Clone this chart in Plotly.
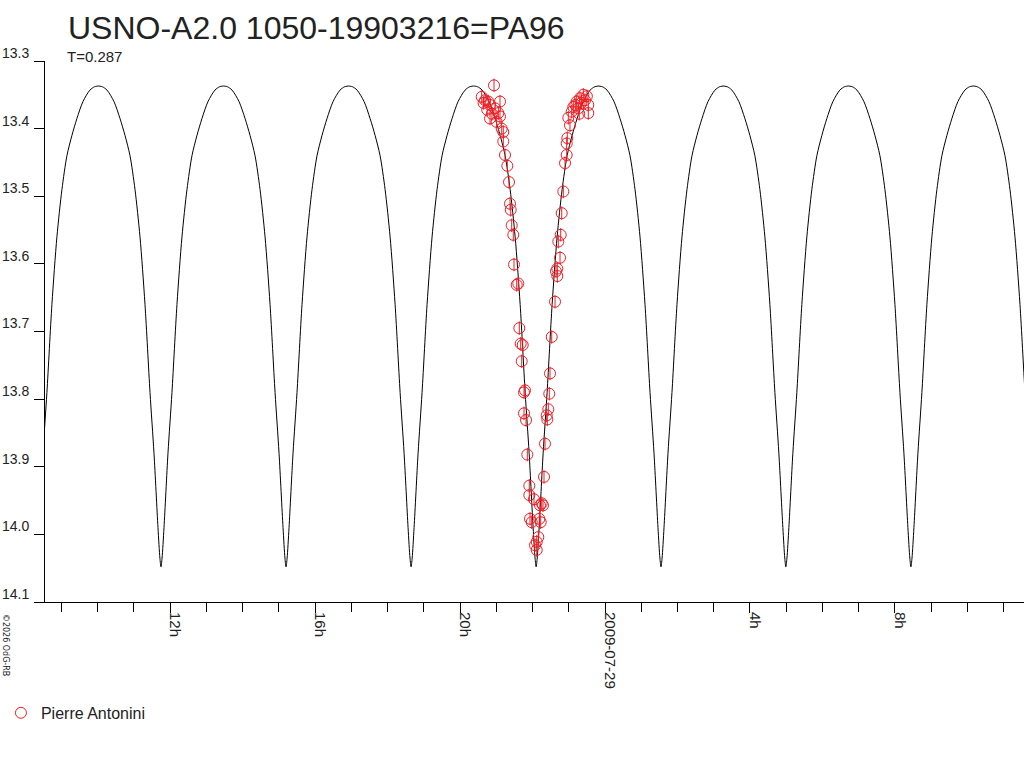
import pandas as pd
import plotly.graph_objects as go

# time axis reference: 2009-07-29 00:00 UT, values in hours
t0 = pd.Timestamp("2009-07-29 00:00:00")
x_start_h = -15.45
x_end_h = 11.56

# model light curve: times of minima and half profile around a minimum
minima_h = [-15.70, -12.25, -8.80, -5.35, -1.90, 1.545, 4.99, 8.44, 11.89]
profile_dh = [0, 0.03, 0.083, 0.193, 0.303, 0.441, 0.579, 0.717, 0.855, 0.993, 1.131, 1.297, 1.490, 1.620, 1.724]
profile_mag = [14.048, 14.035, 13.99, 13.88, 13.79, 13.66, 13.56, 13.49, 13.44, 13.41, 13.385, 13.36, 13.343, 13.338, 13.337]

# observations (Pierre Antonini)
obs_h = [-3.401, -3.350, -3.310, -3.250, -3.219, -3.172, -3.172, -3.120, -3.062, -3.034,
         -2.990, -2.943, -2.897, -2.897, -2.850, -2.806, -2.806, -2.759, -2.695, -2.648,
         -2.621, -2.601, -2.574, -2.530, -2.510, -2.436, -2.392, -2.364, -2.326, -2.298,
         -2.270, -2.234, -2.207, -2.234, -2.179, -2.143, -2.088, -2.088, -2.069, -2.022,
         -1.959,
         -1.931, -1.884, -1.884, -1.840, -1.812, -1.793, -1.774, -1.746, -1.710, -1.683,
         -1.655, -1.608, -1.592, -1.564, -1.537, -1.517, -1.470, -1.379, -1.352, -1.316,
         -1.316, -1.288, -1.241, -1.222, -1.194, -1.150, -1.103, -1.057, -1.057, -1.040,
         -1.012, -0.966, -0.919, -0.874, -0.820, -0.781, -0.737, -0.710, -0.690, -0.650,
         -0.599, -0.552, -0.500, -0.461, -0.461]
obs_mag = [13.353, 13.362, 13.358, 13.372, 13.360, 13.365, 13.385, 13.378, 13.336, 13.370,
           13.390, 13.377, 13.360, 13.382, 13.400, 13.405, 13.419, 13.439, 13.455, 13.479,
           13.511, 13.520, 13.543, 13.557, 13.601, 13.631, 13.629, 13.695, 13.718, 13.744,
           13.720, 13.790, 13.787, 13.821, 13.831, 13.882, 13.928, 13.942, 13.977, 13.982,
           13.948,
           14.016, 14.011, 14.023, 14.004, 13.977, 13.957, 13.982, 13.954, 13.957, 13.915,
           13.866, 13.824, 13.830, 13.815, 13.792, 13.762, 13.708, 13.656, 13.611, 13.607,
           13.618, 13.567, 13.591, 13.557, 13.525, 13.493, 13.451, 13.422, 13.439, 13.414,
           13.384, 13.395, 13.375, 13.368, 13.365, 13.360, 13.370, 13.378, 13.355, 13.362,
           13.350, 13.358, 13.352, 13.365, 13.377]

y_ticks = [13.3, 13.4, 13.5, 13.6, 13.7, 13.8, 13.9, 14.0, 14.1]
x_tick_h = [-12, -8, -4, 0, 4, 8]
x_tick_text = ["12h", "16h", "20h", "2009-07-29", "4h", "8h"]


def hours(h):
    return t0 + pd.to_timedelta(h, unit="h")


# build the curve from the profile, mirrored around each minimum
curve_h = []
curve_mag = []
for m in minima_h:
    for dh, mag in zip(reversed(profile_dh), reversed(profile_mag)):
        curve_h.append(m - dh)
        curve_mag.append(mag)
    for dh, mag in zip(profile_dh[1:], profile_mag[1:]):
        curve_h.append(m + dh)
        curve_mag.append(mag)

red = "rgb(240,30,36)"
font = "Liberation Sans, Arial"

fig = go.Figure()
fig.add_trace(go.Scatter(
    x=hours(curve_h), y=curve_mag, mode="lines",
    line=dict(color="black", width=1, shape="spline", smoothing=0.8),
    showlegend=False, hoverinfo="skip"))
fig.add_trace(go.Scatter(
    x=hours(obs_h), y=obs_mag, mode="markers", name="Pierre Antonini",
    marker=dict(symbol="circle-open", size=11, color=red, line=dict(width=1, color=red)),
    error_y=dict(type="constant", value=0.01, color=red, thickness=1, width=0)))

minor_vals = pd.date_range(hours(-15), hours(11), freq="1h")

fig.update_xaxes(
    type="date",
    range=[hours(x_start_h), hours(x_end_h)],
    tickvals=hours(x_tick_h), ticktext=x_tick_text,
    tickangle=90, ticks="outside", ticklen=10, tickcolor="black",
    ticklabelshift=5, ticklabelstandoff=-4,
    minor=dict(tickvals=minor_vals, ticks="outside", ticklen=9, tickcolor="black"),
    showline=True, linecolor="black", linewidth=1,
    showgrid=False, zeroline=False,
    tickfont=dict(family=font, size=15, color="#222"),
)
fig.update_yaxes(
    range=[14.1, 13.3],
    tickvals=y_ticks, ticktext=[f"{v:.1f}" for v in y_ticks],
    ticks="outside", ticklen=10, tickcolor="black",
    ticklabelshift=8, ticklabelstandoff=2,
    showline=True, linecolor="black", linewidth=1,
    showgrid=False, zeroline=False,
    tickfont=dict(family=font, size=14, color="#222"),
)

fig.add_annotation(text="USNO-A2.0 1050-19903216=PA96", xref="paper", yref="paper",
                   x=0.021, y=1.061, xanchor="left", yanchor="middle", showarrow=False,
                   font=dict(family=font, size=32, color="#222"))
fig.add_annotation(text="T=0.287", xref="paper", yref="paper",
                   x=0.020, y=1.009, xanchor="left", yanchor="middle", showarrow=False,
                   font=dict(family=font, size=15, color="#222"))
fig.add_annotation(text="©2026 OdG-RB", xref="paper", yref="paper",
                   x=-0.041, y=-0.018, xanchor="center", yanchor="top", textangle=90,
                   showarrow=False,
                   font=dict(family="DejaVu Sans", size=8, color="#222"))

fig.update_layout(
    width=1024, height=768,
    margin=dict(l=45, r=0, t=61, b=166),
    plot_bgcolor="white", paper_bgcolor="white",
    showlegend=True,
    legend=dict(x=-0.045, y=-0.205, xanchor="left", yanchor="middle",
                font=dict(family=font, size=16, color="#222"),
                bgcolor="rgba(0,0,0,0)", itemwidth=30),
)

fig.write_html("out.html", config={"displayModeBar": False},
               post_script="document.body.style.margin='0';")
